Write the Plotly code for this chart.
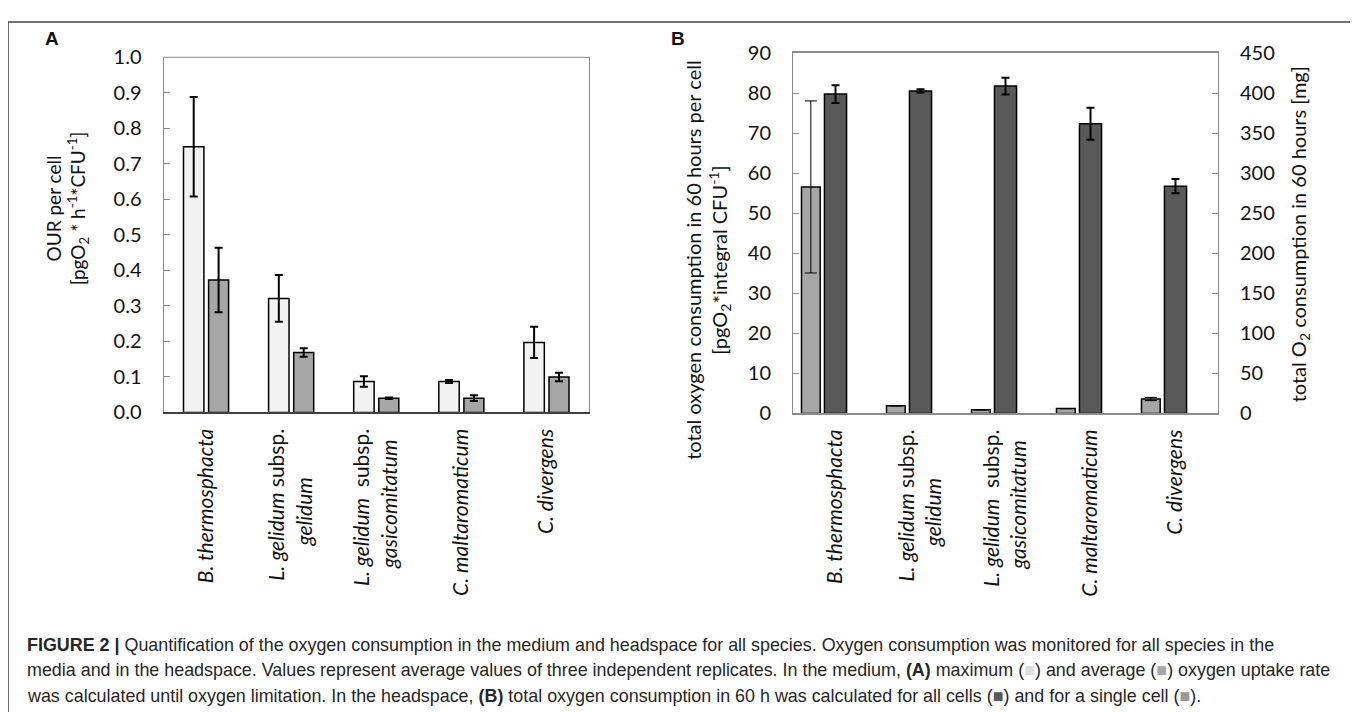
import plotly.graph_objects as go

W, H = 1358, 712
# page placement of the figure as observed in the rendered picture
OFFX = 8
OFFY = 20.7
SY = 0.966

NB = "\u00a0"
species = [
    "<i>B. thermosphacta</i>",
    "<i>L. gelidum</i> subsp.<br><i>gelidum</i>" + NB * 9,
    "<i>L. gelidum</i>  subsp.<br><i>gasicomitatum</i>" + NB * 2,
    "<i>C. maltaromaticum</i>",
    "<i>C. divergens</i>",
]
cats = ["Bt", "Lgg", "Lgga", "Cm", "Cd"]

# Panel A: OUR per cell
our_max = [0.748, 0.321, 0.087, 0.087, 0.197]
our_max_err = [0.140, 0.066, 0.015, 0.004, 0.044]
our_avg = [0.373, 0.169, 0.040, 0.040, 0.100]
our_avg_err = [0.091, 0.012, 0.002, 0.008, 0.012]

# Panel B: total oxygen consumption in 60 h
cell_total = [56.6, 1.9, 0.9, 1.2, 3.6]
cell_total_err = [21.5, None, None, None, 0.4]
all_total = [399, 403, 409, 362, 284]
all_total_err = [11, 2, 10.5, 20, 9]

yA_ticks = [round(0.1 * i, 1) for i in range(11)]
yB_ticks = list(range(0, 91, 10))
yB2_ticks = list(range(0, 451, 50))


def px_x(p):
    return (p - OFFX) / W


def px_y(p):
    f = max((p - OFFY) / SY, 1.0)
    return 1 - f / H


TICKFONT = dict(family="Lato", size=20, color="#111")
CATFONT = dict(family="Lato", size=21, color="#111")
BOX = "#8c8c8c"

fig = go.Figure()

# Panel A bars
fig.add_trace(go.Bar(
    x=cats, y=our_max, xaxis="x", yaxis="y",
    offset=-0.265, width=0.24,
    marker=dict(color="#f2f2f2", line=dict(color="#000", width=1.5)),
    error_y=dict(type="data", array=our_max_err, color="#000", thickness=2, width=4),
    showlegend=False,
))
fig.add_trace(go.Bar(
    x=cats, y=our_avg, xaxis="x", yaxis="y",
    offset=0.03, width=0.235,
    marker=dict(color="#a6a6a6", line=dict(color="#000", width=1.5)),
    error_y=dict(type="data", array=our_avg_err, color="#000", thickness=2, width=4),
    showlegend=False,
))

# Panel B bars
fig.add_trace(go.Bar(
    x=cats, y=cell_total, xaxis="x2", yaxis="y2",
    offset=-0.40, width=0.22,
    marker=dict(color="#a6a6a6", line=dict(color="#000", width=1.5)),
    error_y=dict(type="data", array=cell_total_err, color="#000", thickness=1, width=6),
    showlegend=False,
))
fig.add_trace(go.Bar(
    x=cats, y=all_total, xaxis="x2", yaxis="y3",
    offset=-0.13, width=0.26,
    marker=dict(color="#595959", line=dict(color="#000", width=1.5)),
    error_y=dict(type="data", array=all_total_err, color="#000", thickness=2, width=4),
    showlegend=False,
))

xcommon = dict(
    type="category", categoryorder="array", categoryarray=cats,
    tickvals=cats, ticktext=species, tickangle=-90, ticks="",
    tickfont=CATFONT, ticklabelstandoff=6, showgrid=False, zeroline=False,
    range=[-0.5, 4.5], fixedrange=True,
)
ycommon = dict(ticks="inside", ticklen=6, tickcolor=BOX, showline=True,
               linecolor=BOX, showgrid=False, zeroline=False,
               tickfont=TICKFONT, ticklabelstandoff=17)

fig.update_layout(
    width=W, height=H, autosize=False,
    margin=dict(l=0, r=0, t=0, b=0),
    paper_bgcolor="white", plot_bgcolor="white",
    barmode="overlay",
    xaxis=dict(domain=[px_x(163.5), px_x(589)], anchor="y",
               showline=True, linecolor="#404040", linewidth=2, mirror=False,
               **xcommon),
    yaxis=dict(domain=[px_y(412), px_y(57)], anchor="x", range=[0, 1],
               tickvals=yA_ticks, tickformat=".1f", linewidth=1, mirror=True,
               **ycommon),
    xaxis2=dict(domain=[px_x(793), px_x(1218)], anchor="y2",
                showline=True, linecolor=BOX, linewidth=1.5, mirror=True,
                **xcommon),
    yaxis2=dict(domain=[px_y(413), px_y(53)], anchor="x2", range=[0, 90],
                tickvals=yB_ticks, linewidth=1, **ycommon),
    yaxis3=dict(overlaying="y2", side="right", anchor="x2", range=[0, 450],
                tickvals=yB2_ticks, linewidth=1, **ycommon),
)

shapes = [
    # top border of panel A box
    dict(type="line", xref="x domain", yref="y domain", x0=0, x1=1, y0=1, y1=1,
         line=dict(color=BOX, width=1)),
    # outer frame
    dict(type="rect", xref="paper", yref="paper", x0=px_x(8), x1=px_x(1354.5),
         y0=-0.05, y1=px_y(10), line=dict(color="#444", width=1.5),
         fillcolor="rgba(0,0,0,0)", layer="above"),
]
fig.update_layout(shapes=shapes)

ann = []
# axis titles
ann.append(dict(text="OUR per cell<br>[pgO<sub>2</sub> * h<sup>-1</sup>*CFU<sup>-1</sup>]",
                xref="paper", yref="paper", x=px_x(67), y=px_y(208),
                xanchor="center", yanchor="middle", textangle=-90, showarrow=False,
                font=dict(family="Lato", size=19, color="#111")))
ann.append(dict(text="total oxygen consumption in 60 hours per cell<br>[pgO<sub>2</sub>*integral CFU<sup>-1</sup>]",
                xref="paper", yref="paper", x=px_x(708), y=px_y(259.5),
                xanchor="center", yanchor="middle", textangle=-90, showarrow=False,
                font=dict(family="Lato", size=20, color="#111")))
ann.append(dict(text="total O<sub>2</sub> consumption in 60 hours [mg]",
                xref="paper", yref="paper", x=px_x(1299), y=px_y(234),
                xanchor="center", yanchor="middle", textangle=-90, showarrow=False,
                font=dict(family="Lato", size=20, color="#111")))

CAPFONT = dict(family="Liberation Sans, Arial", size=17.9, color="#262626")
sq = lambda c: f"(<span style='color:{c}'>■</span>)"
caption = [
    "<b>FIGURE 2 |</b> Quantification of the oxygen consumption in the medium and headspace for all species. Oxygen consumption was monitored for all species in the",
    f"media and in the headspace. Values represent average values of three independent replicates. In the medium, <b>(A)</b> maximum {sq('#dedede')} and average {sq('#a6a6a6')} oxygen uptake rate",
    f"was calculated until oxygen limitation. In the headspace, <b>(B)</b> total oxygen consumption in 60 h was calculated for all cells {sq('#595959')} and for a single cell {sq('#999999')}.",
]
for i, line in enumerate(caption):
    ann.append(dict(text=line, xref="paper", yref="paper", x=px_x(25), y=px_y(645 + 25 * i),
                    xanchor="left", yanchor="middle", showarrow=False, font=CAPFONT))
ann.append(dict(text="<b>A</b>", xref="paper", yref="paper", x=px_x(52), y=px_y(38),
                xanchor="center", yanchor="middle", showarrow=False,
                font=dict(family="Liberation Sans, Arial", size=19, color="#111")))
ann.append(dict(text="<b>B</b>", xref="paper", yref="paper", x=px_x(678), y=px_y(38),
                xanchor="center", yanchor="middle", showarrow=False,
                font=dict(family="Liberation Sans, Arial", size=19, color="#111")))
fig.update_layout(annotations=ann)

fig.write_html("out.html")
